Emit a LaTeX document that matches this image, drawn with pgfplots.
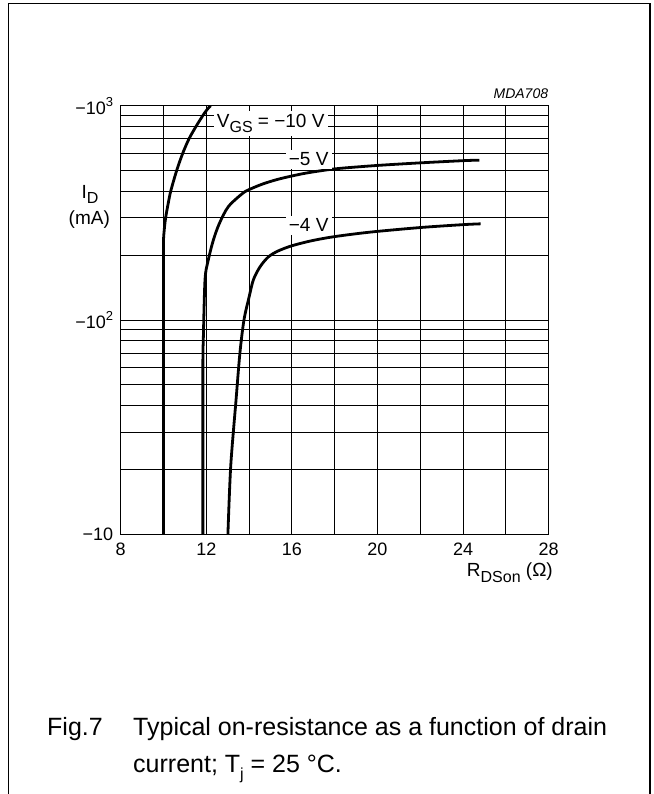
\documentclass[border=0pt]{standalone}
\usepackage{fontspec}
\setmainfont{Liberation Sans}
\usepackage{pgfplots}
\pgfplotsset{compat=1.18}
\newcommand\sub[1]{\raisebox{-0.3em}{\fontsize{16bp}{16bp}\selectfont #1}}
\newcommand\sups[1]{\raisebox{0.45em}{\fontsize{13bp}{13bp}\selectfont #1}}
\newcommand\lbl{\fontsize{19bp}{22bp}\selectfont}

\begin{document}
\begin{tikzpicture}
\path[use as bounding box] (0,0) rectangle (654bp,794bp);
\draw[line width=1.1bp] (8.3bp,-2bp) -- (8.3bp,790.3bp) -- (650bp,790.3bp) -- (650bp,-2bp);
\begin{axis}[
  at={(120.7bp,259.7bp)}, anchor=south west,
  width=428bp, height=428.6bp, scale only axis,
  xmin=8, xmax=28, ymin=10, ymax=1000, ymode=log,
  xtick={8,12,...,28}, xticklabels={8,12,16,20,24,28},
  minor xtick={10,14,...,26},
  ytick={10,100,1000},
  yticklabels={{−10},{−10\sups{2}},{−10\sups{3}}},
  minor ytick={20,30,...,90,200,300,...,900},
  grid=both,
  grid style={black, line width=0.9bp},
  minor grid style={black, line width=0.9bp},
  axis line style={line width=0.9bp},
  major tick length=0pt, minor tick length=0pt,
  tick label style={font=\fontsize{18bp}{21bp}\selectfont},
  xticklabel style={yshift=-5bp},
  yticklabel style={xshift=-4bp},
]
% V_GS = -10 V
\addplot[black, line width=2.8bp, smooth, tension=0.5] coordinates {
  (10.0,10) (10.0,150) (10.0,230) (10.03,260) (10.1,300) (10.22,350)
  (10.34,400) (10.62,500) (10.90,600) (11.19,700) (11.52,800)
  (11.84,900) (12.04,960) (12.2,1000)};
% -5 V
\addplot[black, line width=2.8bp, smooth, tension=0.5] coordinates {
  (11.84,10) (11.84,60) (11.86,81) (11.94,154) (12.09,190) (12.33,236)
  (12.61,282) (13.03,338) (13.70,390) (14.05,408) (14.66,432)
  (15.44,456) (16.53,482) (17.47,499) (18.25,510) (19.96,526)
  (21.99,541) (24.01,554) (24.76,557)};
% -4 V
\addplot[black, line width=2.8bp, smooth, tension=0.5] coordinates {
  (13.01,10) (13.14,20.7) (13.39,42.4) (13.57,70) (13.76,100)
  (14.0,128) (14.2,154) (14.51,177) (14.9,197) (15.36,210) (16.0,222)
  (16.93,234.4) (18.0,245) (19.65,257) (21.99,270) (24.01,278.6) (24.82,281)};
\end{axis}
\node[anchor=base west, fill=white, inner sep=3bp, font=\lbl] at (213.7bp,666.7bp) {V\sub{GS} = −10 V};
\node[anchor=base west, fill=white, inner sep=3bp, font=\lbl] at (285.7bp,628bp) {−5 V};
\node[anchor=base west, fill=white, inner sep=3bp, font=\lbl] at (285.7bp,562.3bp) {−4 V};
\node[anchor=base, inner sep=0pt, font=\lbl] at (90bp,595.7bp) {I\sub{D}};
\node[anchor=base, inner sep=0pt, font=\lbl] at (89.3bp,569bp) {(mA)};
\node[anchor=base east, inner sep=0pt, font=\lbl] at (553bp,217bp) {R\sub{DSon} (Ω)};
\node[anchor=base east, inner sep=0pt, font=\fontsize{14bp}{16bp}\selectfont\itshape] at (548.3bp,695.7bp) {MDA708};
\node[anchor=base west, inner sep=0pt, font=\fontsize{25bp}{28bp}\selectfont] at (47bp,58bp) {Fig.7};
\node[anchor=base west, inner sep=0pt, font=\fontsize{25bp}{28bp}\selectfont] at (133bp,58bp) {Typical on-resistance as a function of drain};
\node[anchor=base west, inner sep=0pt, font=\fontsize{25bp}{28bp}\selectfont] at (133bp,22bp) {current; T\sub{j} = 25 °C.};
\end{tikzpicture}
\end{document}
